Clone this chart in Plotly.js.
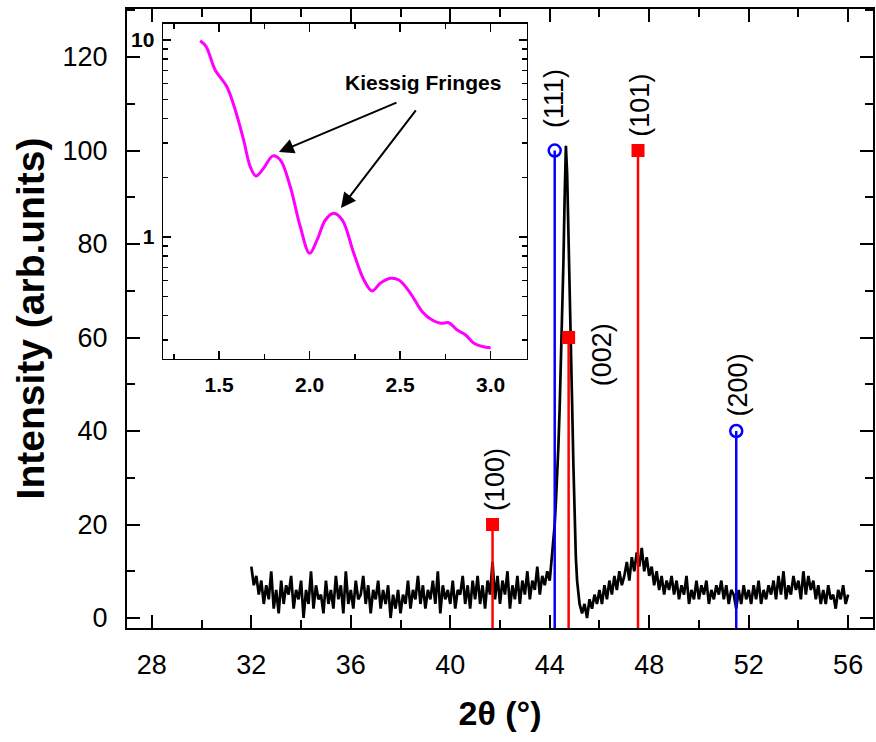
<!DOCTYPE html>
<html>
<head>
<meta charset="utf-8">
<script src="https://cdn.plot.ly/plotly-3.0.1.min.js"></script>
<style>html,body{margin:0;padding:0;background:#fff;}#chart{width:876px;height:742px;}</style>
</head>
<body>
<div id="chart"></div>
<script>
// ---------- Main XRD scan (2theta in degrees, intensity arb. units) ----------
const xrdLowStart = 32.0;
const xrdStep = 0.1;
const xrdLow = [
  11, 7, 9, 5, 8, 3, 7, 4, 10, 2,
  6, 1, 8, 3, 7, 5, 9, 2, 6, 4,
  8, 0, 6, 3, 10, 2, 7, 4, 5, 1,
  8, 3, 6, 2, 9, 4, 7, 1, 10, 3,
  6, 2, 8, 4, 5, 9, 3, 7, 1, 6,
  4, 8, 2, 6, 3, 7, 0, 5, 2, 6,
  1, 5, 3, 8, 2, 6, 4, 9, 3, 7,
  2, 6, 4, 8, 3, 10, 1, 7, 4, 6,
  3, 8, 2, 6, 5, 9, 3, 7, 2, 8,
  4, 9, 3, 7, 2, 8, 5, 12, 4, 9,
  3, 8, 5, 10, 2, 7, 4, 9, 3, 8,
  5, 10, 4, 8, 6, 11, 5, 9, 7, 10,
  8
];
const peakTheta = [44.05, 44.1, 44.15, 44.2, 44.25, 44.3, 44.35, 44.4, 44.45, 44.5, 44.55, 44.6, 44.65,
                   44.7, 44.75, 44.8, 44.85, 44.9, 44.95, 45.0, 45.05, 45.1, 45.15, 45.2, 45.25];
const peakInt   = [11, 13, 16, 20, 25, 30, 37, 45, 54, 63, 76, 90, 101,
                   95, 84, 72, 60, 46, 33, 22, 13, 8, 5, 3, 2];
const xrdHighStart = 45.3;
const xrdHigh = [
  1, 3, 0, 4, 2, 5, 3,
  6, 3, 7, 4, 8, 5, 9, 6, 10, 7,
  9, 12, 8, 13, 10, 14, 11, 15, 10, 13,
  9, 11, 7, 10, 6, 9, 5, 8, 6, 9,
  5, 8, 4, 7, 5, 9, 3, 6, 4, 8,
  4, 7, 5, 8, 3, 6, 4, 7, 5, 8,
  4, 7, 3, 6, 5, 2, 6, 3, 7, 4,
  6, 3, 7, 4, 8, 3, 6, 4, 7, 5,
  8, 4, 9, 5, 10, 4, 7, 5, 9, 6,
  8, 4, 10, 5, 9, 6, 8, 4, 7, 3,
  6, 3, 7, 4, 5, 2, 6, 4, 7, 3,
  5
];

// ---------- Reference patterns (stick lines) ----------
const hcpHKL = ['(100)', '(002)', '(101)'];
const hcpPos = [41.7, 44.76, 47.55];
const hcpInt = [20, 60, 100];
const fccHKL = ['(111)', '(200)'];
const fccPos = [44.2, 51.5];
const fccInt = [100, 40];

// ---------- Inset: low-angle reflectivity ----------
const insetTheta = [1.395, 1.428, 1.478, 1.542, 1.589, 1.635, 1.672, 1.703, 1.745, 1.797, 1.838, 1.893,
                    1.948, 2.0, 2.041, 2.087, 2.133, 2.18, 2.244, 2.30, 2.345, 2.39, 2.446, 2.493,
                    2.557, 2.622, 2.677, 2.723, 2.769, 2.815, 2.862, 2.908, 2.954, 3.0];
const insetInt = [9.9, 9.25, 7.04, 5.8, 4.41, 3.11, 2.27, 2.04, 2.23, 2.58, 2.46, 1.80,
                  1.13, 0.826, 0.966, 1.22, 1.32, 1.22, 0.826, 0.605, 0.532, 0.582, 0.617, 0.605,
                  0.518, 0.418, 0.379, 0.365, 0.367, 0.337, 0.318, 0.289, 0.278, 0.274];

// tick labels
const xTickVals = [28, 32, 36, 40, 44, 48, 52, 56];
const yTickVals = [0, 20, 40, 60, 80, 100, 120];
const insetXTicks = [1.5, 2.0, 2.5, 3.0];
const insetXText = ['1.5', '2.0', '2.5', '3.0'];
const insetYTicks = [1, 10];
const insetYText = ['1', '10'];
const insetYMinor = [0.3, 0.4, 0.5, 0.6, 0.7, 0.8, 0.9, 2, 3, 4, 5, 6, 7, 8, 9];

// ---------- build ----------
const twoTheta = [], intensity = [];
xrdLow.forEach((v, i) => { twoTheta.push(+(xrdLowStart + i * xrdStep).toFixed(2)); intensity.push(v); });
peakTheta.forEach((t, i) => { twoTheta.push(t); intensity.push(peakInt[i]); });
xrdHigh.forEach((v, i) => { twoTheta.push(+(xrdHighStart + i * xrdStep).toFixed(2)); intensity.push(v); });

const yRange = [-2.14, 130.27];
function stems(pos, hts) {
  const x = [], y = [];
  pos.forEach((p, i) => { x.push(p, p, null); y.push(yRange[0] - 5, hts[i], null); });
  return {x, y};
}
const hcpS = stems(hcpPos, hcpInt);
const fccS = stems(fccPos, fccInt);

const FONT = 'Liberation Sans, Arial, sans-serif';
const traces = [
  {x: twoTheta, y: intensity, type: 'scatter', mode: 'lines', line: {color: '#000', width: 2.7},
   xaxis: 'x', yaxis: 'y', hoverinfo: 'skip'},
  {x: fccS.x, y: fccS.y, type: 'scatter', mode: 'lines', line: {color: '#0000ff', width: 2.5},
   xaxis: 'x', yaxis: 'y', connectgaps: false},
  {x: hcpS.x, y: hcpS.y, type: 'scatter', mode: 'lines', line: {color: '#ff0000', width: 2.5},
   xaxis: 'x', yaxis: 'y', connectgaps: false},
  {x: hcpPos, y: hcpInt, type: 'scatter', mode: 'markers',
   marker: {symbol: 'square', size: 13, color: '#ff0000'}, xaxis: 'x', yaxis: 'y'},
  {x: fccPos, y: fccInt, type: 'scatter', mode: 'markers',
   marker: {symbol: 'circle-open', size: 12, color: '#0000ff', line: {width: 2.5, color: '#0000ff'}},
   xaxis: 'x', yaxis: 'y'},
  {x: insetTheta, y: insetInt, type: 'scatter', mode: 'lines',
   line: {color: '#ff00ff', width: 3, shape: 'spline', smoothing: 1}, xaxis: 'x2', yaxis: 'y2'}
];

// peak labels: offsets relative to stick tip (data units)
const hcpOff = [[0.1, 9.5], [1.32, -3.7], [0.1, 9.7]];
const fccOff = [[-0.03, 11.2], [0.08, 9.8]];
const annotations = [];
hcpHKL.forEach((t, i) => annotations.push({x: hcpPos[i] + hcpOff[i][0], y: hcpInt[i] + hcpOff[i][1],
  xref: 'x', yref: 'y', text: t, showarrow: false, textangle: -90,
  font: {family: FONT, size: 27, color: '#000'}, xanchor: 'center', yanchor: 'middle'}));
fccHKL.forEach((t, i) => annotations.push({x: fccPos[i] + fccOff[i][0], y: fccInt[i] + fccOff[i][1],
  xref: 'x', yref: 'y', text: t, showarrow: false, textangle: -90,
  font: {family: FONT, size: 27, color: '#000'}, xanchor: 'center', yanchor: 'middle'}));

annotations.push({x: 2.626, y: 0.782, xref: 'x2', yref: 'y2', text: '<b>Kiessig Fringes</b>',
  showarrow: false, font: {family: FONT, size: 21, color: '#000'}, xanchor: 'center', yanchor: 'middle'});
annotations.push({x: 1.83, y: 0.431, ax: 2.488, ay: 0.685, xref: 'x2', yref: 'y2', axref: 'x2', ayref: 'y2',
  text: '', showarrow: true, arrowhead: 2, arrowsize: 1.5, arrowwidth: 2, arrowcolor: '#000', standoff: 0});
annotations.push({x: 2.173, y: 0.147, ax: 2.593, ay: 0.65, xref: 'x2', yref: 'y2', axref: 'x2', ayref: 'y2',
  text: '', showarrow: true, arrowhead: 2, arrowsize: 1.5, arrowwidth: 2, arrowcolor: '#000', standoff: 0});

const layout = {
  width: 876, height: 742,
  margin: {l: 127, r: 3, t: 9, b: 114},
  paper_bgcolor: '#fff', plot_bgcolor: '#fff',
  showlegend: false,
  font: {family: FONT, color: '#000'},
  xaxis: {
    domain: [0, 1], range: [27, 57], tickvals: xTickVals, ticktext: xTickVals.map(String),
    ticks: 'inside', ticklen: 13, tickwidth: 2, tickcolor: '#000',
    minor: {dtick: 2, tick0: 28, ticks: 'inside', ticklen: 8, tickwidth: 2, tickcolor: '#000'},
    showline: true, linewidth: 2, linecolor: '#000', mirror: 'ticks', showgrid: false, zeroline: false,
    tickfont: {family: FONT, size: 27}, ticklabelstandoff: 12,
    title: {text: '<b>2θ (°)</b>', font: {family: FONT, size: 34}, standoff: 22}
  },
  yaxis: {
    domain: [0, 1], range: yRange, tickvals: yTickVals, ticktext: yTickVals.map(String),
    ticks: 'inside', ticklen: 13, tickwidth: 2, tickcolor: '#000',
    minor: {dtick: 10, tick0: 0, ticks: 'inside', ticklen: 8, tickwidth: 2, tickcolor: '#000'},
    showline: true, linewidth: 2, linecolor: '#000', mirror: 'ticks', showgrid: false, zeroline: false,
    tickfont: {family: FONT, size: 27}, ticklabelstandoff: 12,
    title: {text: '<b>Intensity (arb.units)</b>', font: {family: FONT, size: 39}, standoff: 6}
  },
  xaxis2: {
    domain: [0.0483, 0.536], anchor: 'y2', range: [1.19, 3.2],
    tickmode: 'array', tickvals: insetXTicks, ticktext: insetXText.map(t => '<b>' + t + '</b>'),
    ticks: 'inside', ticklen: 8, tickwidth: 1.5, tickcolor: '#000',
    minor: {dtick: 0.25, tick0: 1.25, ticks: 'inside', ticklen: 5, tickwidth: 1.5, tickcolor: '#000'},
    showline: true, linewidth: 1.5, linecolor: '#000', mirror: 'ticks', showgrid: false, zeroline: false,
    tickfont: {family: FONT, size: 21}, ticklabelstandoff: 6
  },
  yaxis2: {
    domain: [0.4346, 0.9758], anchor: 'x2', type: 'log', range: [-0.619, 1.081],
    tickmode: 'array', tickvals: insetYTicks, ticktext: insetYText.map(t => '<b>' + t + '</b>'),
    ticks: 'inside', ticklen: 8, tickwidth: 1.5, tickcolor: '#000',
    minor: {tickmode: 'array', tickvals: insetYMinor, ticks: 'inside', ticklen: 5, tickwidth: 1.5, tickcolor: '#000'},
    showline: true, linewidth: 1.5, linecolor: '#000', mirror: 'ticks', showgrid: false, zeroline: false,
    tickfont: {family: FONT, size: 21}, ticklabelstandoff: 3
  },
  annotations: annotations
};

Plotly.newPlot('chart', traces, layout, {staticPlot: true, displayModeBar: false});
</script>
</body>
</html>
